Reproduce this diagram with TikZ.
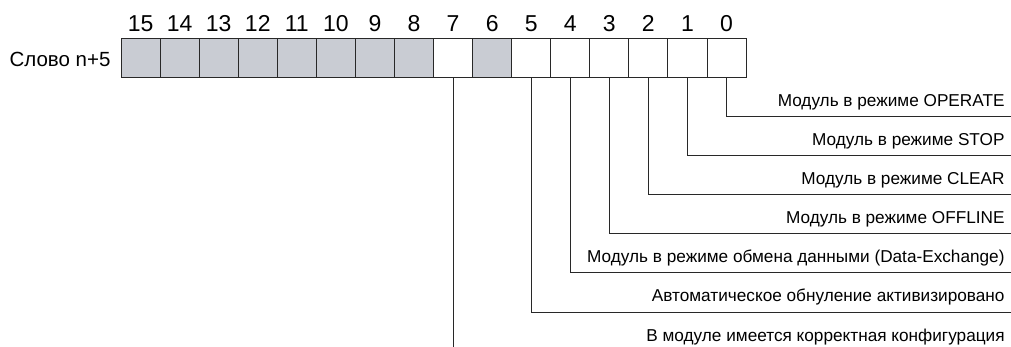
\documentclass[tikz,border=0pt]{standalone}
\usepackage{fontspec}
\setmainfont{Liberation Sans}
\definecolor{cellgray}{RGB}{201,204,211}
\definecolor{rule}{RGB}{40,40,40}
\begin{document}
\begin{tikzpicture}[x=1pt,y=-1pt,line width=0.9pt]
  \tikzstyle{bitcell}=[draw=rule,minimum size=39.06pt,inner sep=0pt,outer sep=0pt]
  \tikzstyle{used}=[bitcell,fill=white]
  \tikzstyle{spare}=[bitcell,fill=cellgray]
  \tikzstyle{bitno}=[anchor=base,inner sep=0pt,font=\fontsize{23}{25}\selectfont]
  \tikzstyle{flag}=[anchor=base east,inner sep=0pt,font=\fontsize{17.2}{19}\selectfont]
  \useasboundingbox (0,0) rectangle (1011,347);
  \node[font=\fontsize{20.5}{23}\selectfont] (word) at (60,59) {Слово n+5};
  % bit cells, bit 0 on the right
  \foreach \i in {0,...,5,7}
    \node[used] (b\i) at (726.5-39.06*\i,58.3) {};
  \foreach \i in {6,8,9,...,15}
    \node[spare] (b\i) at (726.5-39.06*\i,58.3) {};
  \foreach \i in {0,...,15}
    \node[bitno] (n\i) at (726.5-39.06*\i,31.5) {\i};
  % flags
  \foreach \i/\r/\t in {0/0/Модуль в режиме OPERATE,
                        1/1/Модуль в режиме STOP,
                        2/2/Модуль в режиме CLEAR,
                        3/3/Модуль в режиме OFFLINE,
                        4/4/Модуль в режиме обмена данными (Data-Exchange),
                        5/5/Автоматическое обнуление активизировано} {
    \coordinate (e\i) at (1011,116.7+39.05*\r);
    \draw[rule] (b\i.south) |- (e\i);
    \node[flag] (t\i) at (1005,106.5+39.05*\r) {\t};
  }
  \coordinate (e7) at (726.5-39.06*7,347);
  \draw[rule] (b7.south) -- (e7);
  \node[flag] (t7) at (1005,341) {В модуле имеется корректная конфигурация};
\end{tikzpicture}
\end{document}
